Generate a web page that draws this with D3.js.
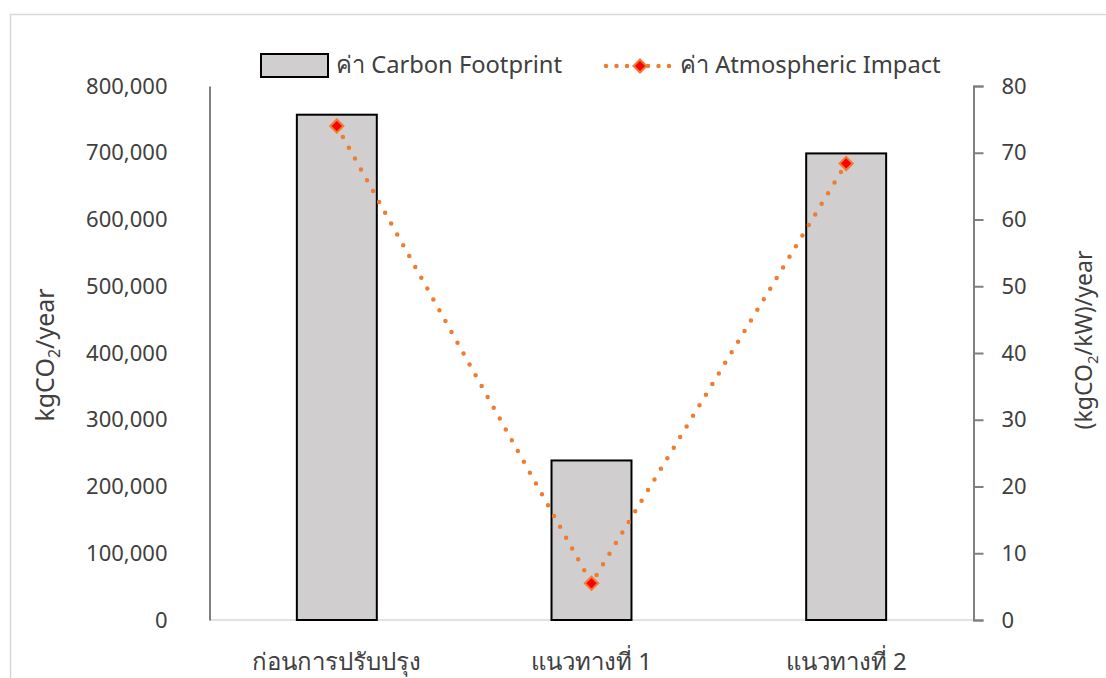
<!DOCTYPE html>
<html>
<head>
<meta charset="utf-8">
<script src="https://cdn.jsdelivr.net/npm/d3@7"></script>
<style>
  body { margin: 0; background: #fff; }
  text { font-family: "Noto Sans", "DejaVu Sans", sans-serif; fill: #404040; }
</style>
</head>
<body>
<script>
var width = 1106,
    height = 678;

var categories = ['ก่อนการปรับปรุง', 'แนวทางที่ 1', 'แนวทางที่ 2'];
var footprint = [757000, 239000, 699000];
var impact = [74.0, 5.5, 68.4];
var leftTicks = [0, 100000, 200000, 300000, 400000, 500000, 600000, 700000, 800000];
var rightTicks = [0, 10, 20, 30, 40, 50, 60, 70, 80];

var svg = d3.select('body').append('svg')
    .attr('width', width)
    .attr('height', height);

// chart border (runs off the page on right/bottom)
svg.append('rect')
    .attr('x', 10.5).attr('y', 14.5)
    .attr('width', 1200).attr('height', 800)
    .attr('fill', 'none')
    .attr('stroke', '#d9d9d9')
    .attr('stroke-width', 1.5);

var plotLeft = 209.5, plotRight = 973.5, plotTop = 86, plotBottom = 620;

var x = d3.scaleBand().domain(categories).range([plotLeft, plotRight]).paddingInner(0.686).paddingOuter(0.343),
    y = d3.scaleLinear().domain([0, 800000]).range([plotBottom, plotTop]),
    y2 = d3.scaleLinear().domain([0, 80]).range([plotBottom, plotTop]);

// baseline
svg.append('line')
    .attr('x1', plotLeft).attr('x2', plotRight)
    .attr('y1', y(0)).attr('y2', y(0))
    .attr('stroke', '#d9d9d9').attr('stroke-width', 1.5);

// bars
svg.selectAll('.bar')
    .data(footprint)
    .enter().append('rect')
    .attr('class', 'bar')
    .attr('x', function(d, i) { return x(categories[i]); })
    .attr('y', function(d) { return y(d); })
    .attr('width', x.bandwidth())
    .attr('height', function(d) { return y(0) - y(d); })
    .attr('fill', '#d0cece')
    .attr('stroke', '#000')
    .attr('stroke-width', 2);

// left axis
var gl = svg.append('g')
    .attr('transform', 'translate(' + plotLeft + ',0)')
    .call(d3.axisLeft(y).tickValues(leftTicks).tickSize(0).tickPadding(42).tickFormat(d3.format(',')));
gl.select('.domain').attr('stroke', '#808080').attr('stroke-width', 2);
gl.selectAll('text').attr('font-size', 22).attr('fill', '#404040')
    .attr('font-family', '"Open Sans", sans-serif');

// right axis
var gr = svg.append('g')
    .attr('transform', 'translate(' + plotRight + ',0)')
    .call(d3.axisRight(y2).tickValues(rightTicks).tickSizeInner(10).tickSizeOuter(10).tickPadding(18));
gr.select('.domain').attr('stroke', '#808080').attr('stroke-width', 2);
gr.selectAll('.tick line').attr('stroke', '#808080').attr('stroke-width', 2);
gr.selectAll('text').attr('font-size', 22).attr('fill', '#404040')
    .attr('font-family', '"Open Sans", sans-serif');

// category labels
svg.selectAll('.cat')
    .data(categories)
    .enter().append('text')
    .attr('class', 'cat')
    .attr('x', function(d) { return x(d) + x.bandwidth() / 2; })
    .attr('y', 670)
    .attr('text-anchor', 'middle')
    .attr('font-size', 24)
    .text(function(d) { return d; });

// axis titles
var t1 = svg.append('text')
    .attr('transform', 'translate(54,355) rotate(-90)')
    .attr('text-anchor', 'middle')
    .attr('font-size', 25);
t1.append('tspan').text('kgCO');
t1.append('tspan').attr('font-size', 16).attr('dy', 6).text('2');
t1.append('tspan').attr('dy', -6).text('/year');

var t2 = svg.append('text')
    .attr('transform', 'translate(1092,340) rotate(-90)')
    .attr('text-anchor', 'middle')
    .attr('font-size', 23);
t2.append('tspan').text('(kgCO');
t2.append('tspan').attr('font-size', 15).attr('dy', 6).text('2');
t2.append('tspan').attr('dy', -6).text('/kW)/year');

// dotted line
var line = d3.line()
    .x(function(d, i) { return x(categories[i]) + x.bandwidth() / 2; })
    .y(function(d) { return y2(d); });

svg.append('path')
    .datum(impact)
    .attr('d', line)
    .attr('fill', 'none')
    .attr('stroke', '#ed7d31')
    .attr('stroke-width', 4.5)
    .attr('stroke-linecap', 'round')
    .attr('stroke-dasharray', '0,12.4');

var diamond = d3.symbol().type(d3.symbolDiamond2).size(110);

svg.selectAll('.marker')
    .data(impact)
    .enter().append('path')
    .attr('class', 'marker')
    .attr('transform', function(d, i) {
      return 'translate(' + (x(categories[i]) + x.bandwidth() / 2) + ',' + y2(d) + ')';
    })
    .attr('d', diamond)
    .attr('fill', '#ff0000')
    .attr('stroke', '#ed7d31')
    .attr('stroke-width', 2);

// legend
var legend = svg.append('g');
legend.append('rect')
    .attr('x', 261).attr('y', 54)
    .attr('width', 67).attr('height', 23)
    .attr('fill', '#d0cece')
    .attr('stroke', '#000')
    .attr('stroke-width', 2);
legend.append('text')
    .attr('x', 336).attr('y', 73)
    .attr('font-size', 23.7)
    .text('ค่า Carbon Footprint');

legend.append('line')
    .attr('x1', 606).attr('x2', 674)
    .attr('y1', 66).attr('y2', 66)
    .attr('stroke', '#ed7d31')
    .attr('stroke-width', 4.5)
    .attr('stroke-linecap', 'round')
    .attr('stroke-dasharray', '0,10.5');
legend.append('path')
    .attr('transform', 'translate(640,66)')
    .attr('d', diamond)
    .attr('fill', '#ff0000')
    .attr('stroke', '#ed7d31')
    .attr('stroke-width', 2);
legend.append('text')
    .attr('x', 680).attr('y', 73)
    .attr('font-size', 23.7)
    .text('ค่า Atmospheric Impact');
</script>
</body>
</html>
